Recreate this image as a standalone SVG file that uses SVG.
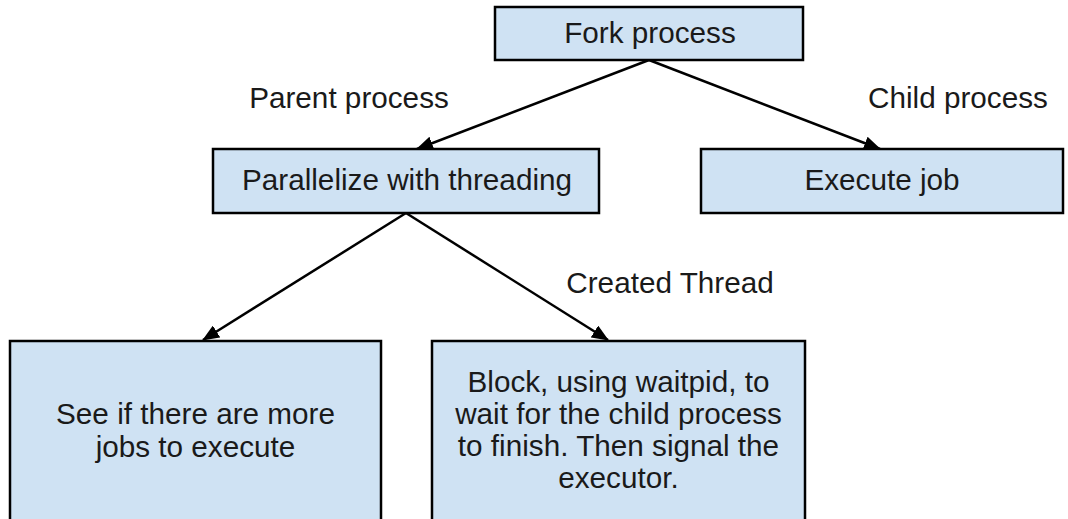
<svg xmlns="http://www.w3.org/2000/svg" width="1068" height="519" viewBox="0 0 1068 519">
<style>
.box{fill:#cfe2f3;stroke:#000;stroke-width:2.5}
.t{font-family:"Liberation Sans",Arial,sans-serif;font-size:29.7px;fill:#1a1a1a;text-anchor:middle}
.c{stroke:#000;stroke-width:2.5;fill:none}
</style>
<defs>
<marker id="ah" markerUnits="userSpaceOnUse" markerWidth="18" markerHeight="14" refX="16" refY="7" orient="auto">
<path d="M0,0 L17,7 L0,14 z" fill="#000"/>
</marker>
</defs>
<rect width="1068" height="519" fill="#fff"/>
<g id="connectors">
<line class="c" x1="649" y1="60" x2="417" y2="149" marker-end="url(#ah)"/>
<line class="c" x1="649" y1="60" x2="880" y2="149" marker-end="url(#ah)"/>
<line class="c" x1="406" y1="213" x2="203" y2="340" marker-end="url(#ah)"/>
<line class="c" x1="406" y1="213" x2="608" y2="340" marker-end="url(#ah)"/>
<text class="t" x="349" y="108">Parent process</text>
<text class="t" x="958" y="108">Child process</text>
<text class="t" x="670" y="293">Created Thread</text>
</g>
<g id="fork">
<rect class="box" x="495" y="7" width="308" height="53"/>
<text class="t" x="650" y="43">Fork process</text>
</g>
<g id="parallelize">
<rect class="box" x="213" y="149" width="386" height="64"/>
<text class="t" x="407" y="190">Parallelize with threading</text>
</g>
<g id="execute">
<rect class="box" x="701" y="149" width="362" height="64"/>
<text class="t" x="882" y="190">Execute job</text>
</g>
<g id="more-jobs">
<rect class="box" x="10" y="341" width="371" height="200"/>
<text class="t" x="195.5" y="424">See if there are more</text>
<text class="t" x="195.5" y="457">jobs to execute</text>
</g>
<g id="block">
<rect class="box" x="432" y="341" width="373" height="200"/>
<text class="t" x="618.5" y="392">Block, using waitpid, to</text>
<text class="t" x="618.5" y="424">wait for the child process</text>
<text class="t" x="618.5" y="456">to finish. Then signal the</text>
<text class="t" x="618.5" y="488">executor.</text>
</g>
</svg>
